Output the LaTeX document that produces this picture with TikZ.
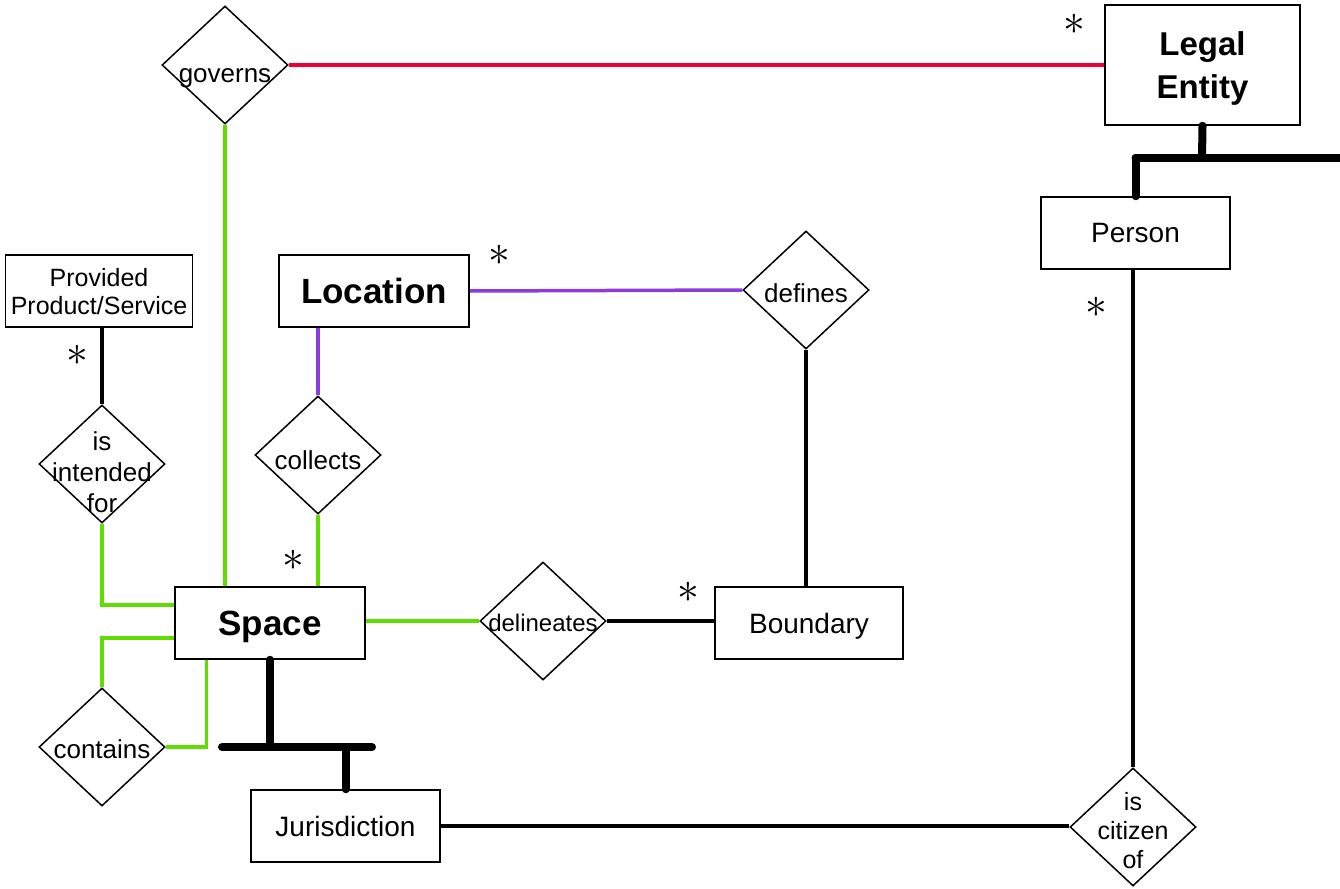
\documentclass[tikz,border=0pt]{standalone}
\usepackage{fontspec}
\setmainfont{Liberation Sans}
\usetikzlibrary{shapes.geometric,calc}
\definecolor{relgreen}{RGB}{95,221,0}
\definecolor{relred}{RGB}{240,0,50}
\definecolor{relpurple}{RGB}{140,60,220}
\tikzset{
  entity/.style={draw, line width=1.5pt, minimum width=189pt, minimum height=72pt, inner sep=0pt, align=center, text depth=0pt, font=\fontsize{28}{32}\selectfont},
  bigentity/.style={entity, font=\fontsize{35}{43}\selectfont\bfseries},
  rel/.style={draw, diamond, line width=1.5pt, minimum width=126pt, minimum height=118pt, inner sep=0pt},
  reltext/.style={font=\fontsize{26}{31}\selectfont, align=center, inner sep=0pt},
  link/.style={line width=3.5pt},
  isa/.style={line width=8pt, line cap=round},
  many/.style={font=\fontsize{20}{20}\selectfont, inner sep=0pt}
}
\newcommand{\manymark}{\scalebox{2.1}{$\ast$}}
\begin{document}
\begin{tikzpicture}[x=1pt,y=-1pt]
\path[fill=white] (0,0) rectangle (1340,888);
\useasboundingbox (0,0) rectangle (1340,888);
\node[bigentity, minimum width=195pt, minimum height=120pt, font=\fontsize{33}{43}\selectfont\bfseries] (legal) at (1202.5,65) {Legal\\Entity};
\node[entity] (person) at (1135.5,233) {Person};
\node[entity, minimum width=187pt, font=\fontsize{25}{28}\selectfont] (provided) at (99,291) {Provided\\Product/Service};
\node[bigentity, minimum width=190pt] (location) at (374,291) {Location};
\node[bigentity, minimum width=190pt] (space) at (270,623) {Space};
\node[entity, minimum width=188pt] (boundary) at (809,623) {Boundary};
\node[entity] (jurisdiction) at (345.5,826) {Jurisdiction};
\node[rel, label={[reltext, yshift=-13pt]center:governs}] (governs) at (225,65) {};
\node[rel, label={[reltext, yshift=-3pt]center:defines}] (defines) at (806,290) {};
\node[rel, label={[reltext, yshift=-8pt]center:{is\\intended\\for}}] (intended) at (102,464) {};
\node[rel, label={[reltext, yshift=-5pt]center:collects}] (collects) at (318,455) {};
\node[rel, label={[reltext, yshift=-2pt, font=\fontsize{24}{30}\selectfont]center:delineates}] (delineates) at (543,621) {};
\node[rel, label={[reltext, yshift=-2pt]center:contains}] (contains) at (102,747) {};
\node[rel, label={[reltext, yshift=-4pt, font=\fontsize{25}{29}\selectfont]center:{is\\citizen\\of}}] (citizen) at (1133,827) {};
\draw[relred, link] (governs.east) -- (governs.east -| legal.west);
\draw[relgreen, link] (governs.south) -- (governs.south |- space.north);
\draw[relpurple, link] (location.east) -- (defines.west);
\draw[relpurple, link] (collects.north) -- (collects.north |- location.south);
\draw[relgreen, link] (collects.south) -- (collects.south |- space.north);
\draw[link] (defines.south) -- (defines.south |- boundary.north);
\draw[relgreen, link] (delineates.west -| space.east) -- (delineates.west);
\draw[line width=4pt] (delineates.east) -- (delineates.east -| boundary.west);
\draw[line width=4pt] (intended.north |- provided.south) -- (intended.north);
\draw[relgreen, link] (intended.south) |- ($(space.west)+(0,-18)$);
\draw[relgreen, link] ($(space.west)+(0,15)$) -| (contains.north);
\draw[relgreen, link] ($(space.south west)+(32,0)$) |- (contains.east);
\coordinate (spacebar) at (270,747);
\draw[isa] (space.south) -- (spacebar);
\draw[isa] ($(spacebar)+(-48,0)$) -- ++(150,0);
\draw[isa] (jurisdiction.north) -- (jurisdiction.north |- spacebar);
\coordinate (legalbar) at (1202,158);
\draw[isa] (legal.south) -- (legalbar);
\draw[isa] (person.north |- legalbar) -- ++(220,0);
\draw[isa] (person.north) -- (person.north |- legalbar);
\draw[link] (jurisdiction.east) -- (jurisdiction.east -| citizen.west);
\draw[link] (citizen.north |- person.south) -- (citizen.north);
\node[many] (many-legal) at (1074,24) {\manymark};
\node[many] (many-location) at (499,255) {\manymark};
\node[many] (many-provided) at (77,355) {\manymark};
\node[many] (many-person) at (1096,307) {\manymark};
\node[many] (many-space) at (293,560) {\manymark};
\node[many] (many-boundary) at (688,592) {\manymark};
\end{tikzpicture}
\end{document}
